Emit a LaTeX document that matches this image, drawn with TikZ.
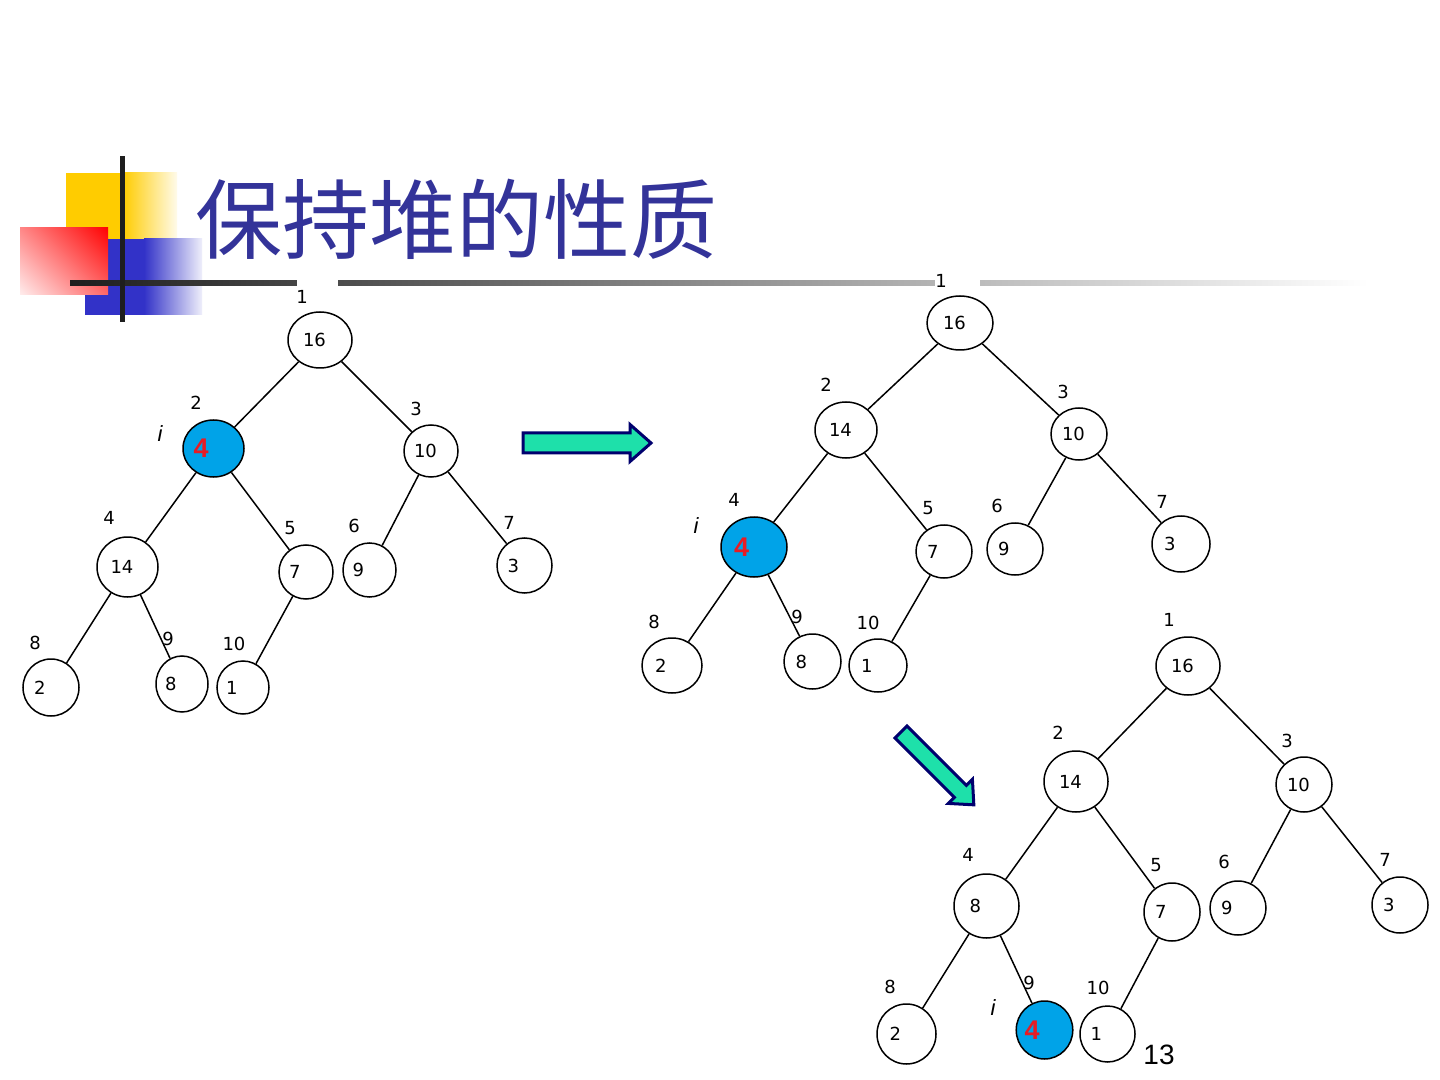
\documentclass[tikz,border=0pt]{standalone}
\usepackage{fontspec}
\setmainfont{DejaVu Sans}
\newfontfamily\cjk{Noto Sans CJK SC}
\newfontfamily\arial{Liberation Sans}
\usetikzlibrary{shapes.geometric}
\definecolor{titleC}{RGB}{51,51,153}
\definecolor{nodeblue}{RGB}{0,163,232}
\definecolor{redfour}{RGB}{232,28,36}
\definecolor{arrowC}{RGB}{30,224,170}
\definecolor{navyC}{RGB}{0,0,110}
\definecolor{yellowC}{RGB}{255,204,0}
\definecolor{blueC}{RGB}{50,50,200}
\definecolor{redC}{RGB}{255,0,0}
\definecolor{barC}{RGB}{30,30,30}
\newcommand{\hn}[7][]{\node[hnode,#1,minimum width=#5*0.5pt,minimum height=#6*0.5pt] (#2) at (#3,#4) {#7};}
\begin{document}
\begin{tikzpicture}[x=0.5pt,y=-0.5pt,
  hnode/.style={ellipse,draw=black,line width=0.75pt,fill=white,inner sep=0pt,
    text width=17pt,align=left,font=\fontsize{9}{10}\selectfont},
  hot/.style={fill=nodeblue,text width=20pt,font=\arial\bfseries\fontsize{13.5}{14}\selectfont,text=redfour},
  lbl/.style={inner sep=0pt,font=\fontsize{9}{10}\selectfont},
  ilbl/.style={inner sep=0pt,font=\arial\itshape\fontsize{11}{12}\selectfont},
  edge/.style={line width=0.75pt},
  blockarrow/.style={fill=arrowC,draw=navyC,line width=1.5pt,line join=miter}]
\useasboundingbox[fill=white] (0,0) rectangle (1440,1080);
% decoration
\fill[yellowC] (66,173) rectangle (124,242);
\shade[left color=yellowC,right color=yellowC!8] (123,173) rectangle (177,242);
\fill[blueC] (85,239) rectangle (145,315);
\shade[left color=blueC,right color=blueC!8] (144,239) rectangle (202,315);
\begin{scope}
\clip (20,228) rectangle (108,295);
\begin{scope}[transform canvas={rotate around={45:(64,261.5)}}]
\shade[left color=redC!6,right color=redC] (8,190) rectangle (120,333);
\end{scope}
\end{scope}
\shade[left color=barC,right color=white] (70,280.5) rectangle (1368,285.5);
\fill[white] (297,276) rectangle (338,290);
\fill[white] (935,276) rectangle (980,290);
\fill[barC] (119.5,156) rectangle (124.5,322);
% title
\node[anchor=west,inner sep=0pt,text=titleC,font=\cjk\fontsize{43.5}{48}\selectfont] (title) at (195,219) {保持堆的性质};
% tree a
\hn{a1}{320}{340}{64}{56}{16}
\hn[hot]{a2}{213.5}{448.5}{61}{57}{4}
\hn{a3}{431}{451}{54}{52}{10}
\hn{a4}{127.5}{567}{61}{60}{14}
\hn{a5}{306}{572}{54}{54}{7}
\hn{a6}{369.5}{570}{53}{54}{9}
\hn{a7}{524.5}{565.5}{55}{55}{3}
\hn{a8}{51}{687.5}{56}{57}{2}
\hn{a9}{182}{684}{52}{56}{8}
\hn{a10}{243}{687.5}{52}{53}{1}
% tree b
\hn{b1}{960}{323}{66}{54}{16}
\hn{b2}{846}{430}{62}{56}{14}
\hn{b3}{1079}{434}{56}{52}{10}
\hn[hot]{b4}{754}{547}{66}{60}{4}
\hn{b5}{944}{551.5}{56}{53}{7}
\hn{b6}{1015}{549}{56}{52}{9}
\hn{b7}{1181}{544}{58}{56}{3}
\hn{b8}{672}{665.5}{60}{55}{2}
\hn{b9}{812.5}{661.5}{57}{55}{8}
\hn{b10}{878}{665.5}{58}{53}{1}
% tree c
\hn{c1}{1188}{666}{64}{58}{16}
\hn{c2}{1076}{781.5}{64}{61}{14}
\hn{c3}{1304}{784.5}{56}{55}{10}
\hn{c4}{986.5}{906}{65}{64}{8}
\hn{c5}{1172}{912}{56}{58}{7}
\hn{c6}{1238}{908}{56}{54}{9}
\hn{c7}{1400}{905}{56}{56}{3}
\hn{c8}{906.5}{1034}{59}{60}{2}
\hn[hot]{c9}{1044.5}{1030}{55}{58}{4}
\hn{c10}{1107.5}{1034}{55}{56}{1}
% edges
\foreach \t in {a,b,c}{
  \draw[edge] (\t1) -- (\t2);
  \draw[edge] (\t1) -- (\t3);
  \draw[edge] (\t2) -- (\t4);
  \draw[edge] (\t2) -- (\t5);
  \draw[edge] (\t3) -- (\t6);
  \draw[edge] (\t3) -- (\t7);
  \draw[edge] (\t4) -- (\t8);
  \draw[edge] (\t4) -- (\t9);
  \draw[edge] (\t5) -- (\t10);
}
% index labels tree a
\node[lbl] (la1) at (302,297) {1};
\node[lbl] (la2) at (196,403) {2};
\node[lbl] (la3) at (416,409) {3};
\node[lbl] (la4) at (109,518) {4};
\node[lbl] (la5) at (290,528) {5};
\node[lbl] (la6) at (354,526) {6};
\node[lbl] (la7) at (509,523) {7};
\node[lbl] (la8) at (35,643) {8};
\node[lbl] (la9) at (168,639) {9};
\node[lbl] (la10) at (234,644) {10};
\node[ilbl] (ia) at (160,434) {i};
% index labels tree b
\node[lbl] (lb1) at (941,281) {1};
\node[lbl] (lb2) at (826,385) {2};
\node[lbl] (lb3) at (1063,392) {3};
\node[lbl] (lb4) at (734,500) {4};
\node[lbl] (lb5) at (928,508) {5};
\node[lbl] (lb6) at (997,506) {6};
\node[lbl] (lb7) at (1162,502) {7};
\node[lbl] (lb8) at (654,622) {8};
\node[lbl] (lb9) at (797,617) {9};
\node[lbl] (lb10) at (868,623) {10};
\node[ilbl] (ib) at (696,526) {i};
% index labels tree c
\node[lbl] (lc1) at (1169,620) {1};
\node[lbl] (lc2) at (1058,733) {2};
\node[lbl] (lc3) at (1287,741) {3};
\node[lbl] (lc4) at (968,855) {4};
\node[lbl] (lc5) at (1156,865) {5};
\node[lbl] (lc6) at (1224,862) {6};
\node[lbl] (lc7) at (1385,860) {7};
\node[lbl] (lc8) at (890,987) {8};
\node[lbl] (lc9) at (1029,983) {9};
\node[lbl] (lc10) at (1098,988) {10};
\node[ilbl] (ic) at (993,1008) {i};
% block arrows
\begin{scope}[shift={(523,443)}]
\draw[blockarrow] (0,-10) -- (107,-10) -- (107,-18.5) -- (128,0) -- (107,18.5) -- (107,10) -- (0,10) -- cycle;
\end{scope}
\begin{scope}[shift={(901,732)},rotate=-45]
\draw[blockarrow] (0,-8.5) -- (84,-8.5) -- (84,-17) -- (103,0) -- (84,17) -- (84,8.5) -- (0,8.5) -- cycle;
\end{scope}
% page number
\node[inner sep=0pt,font=\arial\fontsize{14}{16}\selectfont] (pg) at (1159,1055) {13};
\end{tikzpicture}
\end{document}
